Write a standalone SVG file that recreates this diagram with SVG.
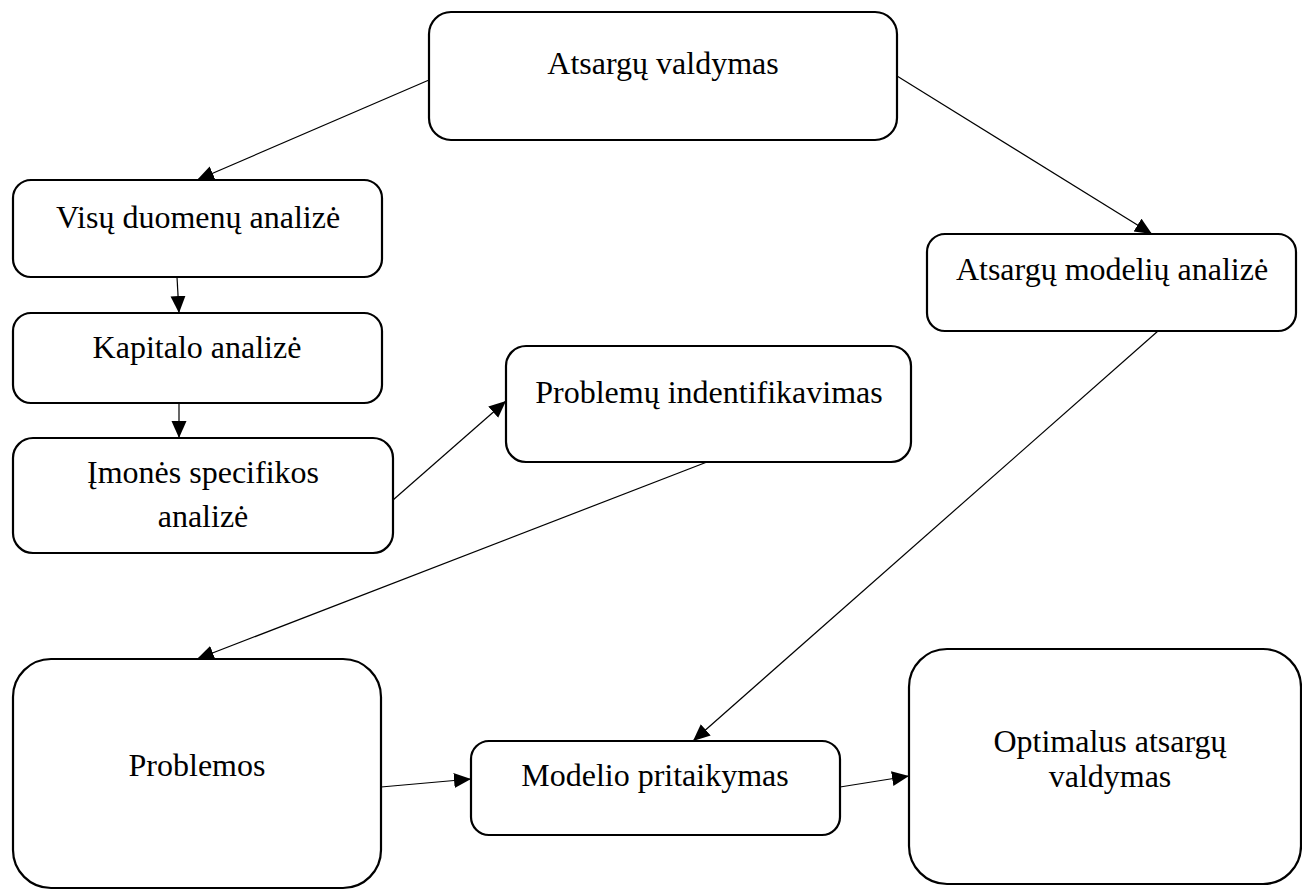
<svg xmlns="http://www.w3.org/2000/svg" width="1302" height="890" viewBox="0 0 1302 890">
<style>
.box{fill:#fff;stroke:#000;stroke-width:2.2}
.lbl{font-family:"Liberation Serif","Times New Roman",serif;font-size:32px;fill:#000;text-anchor:middle}
.con{stroke:#000;stroke-width:1.2;fill:none;marker-end:url(#ah)}
</style>
<defs>
<marker id="ah" markerUnits="userSpaceOnUse" markerWidth="18" markerHeight="16" refX="17" refY="7.5" orient="auto">
<path d="M0,0 L17,7.5 L0,15 z" fill="#000"/>
</marker>
</defs>
<rect width="1302" height="890" fill="#fff"/>
<g id="n1"><rect class="box" x="429" y="12" width="468" height="128" rx="22"/><text class="lbl" x="663" y="74">Atsargų valdymas</text></g>
<g id="n2"><rect class="box" x="13" y="180" width="369" height="97" rx="18"/><text class="lbl" x="198" y="228">Visų duomenų analizė</text></g>
<g id="n3"><rect class="box" x="13" y="313" width="369" height="90" rx="18"/><text class="lbl" x="197" y="358">Kapitalo analizė</text></g>
<g id="n4"><rect class="box" x="13" y="438" width="380" height="115" rx="20"/><text class="lbl" x="203" y="483">Įmonės specifikos</text><text class="lbl" x="203" y="527">analizė</text></g>
<g id="n5"><rect class="box" x="506" y="346" width="405" height="116" rx="20"/><text class="lbl" x="709" y="403">Problemų indentifikavimas</text></g>
<g id="n6"><rect class="box" x="927" y="234" width="369" height="97" rx="18"/><text class="lbl" x="1112" y="280">Atsargų modelių analizė</text></g>
<g id="n7"><rect class="box" x="13" y="659" width="368" height="229" rx="38"/><text class="lbl" x="197" y="776">Problemos</text></g>
<g id="n8"><rect class="box" x="471" y="741" width="369" height="94" rx="18"/><text class="lbl" x="655" y="786">Modelio pritaikymas</text></g>
<g id="n9"><rect class="box" x="909" y="649" width="392" height="235" rx="38"/><text class="lbl" x="1110" y="752">Optimalus atsargų</text><text class="lbl" x="1110" y="787">valdymas</text></g>
<g id="connectors">
<line class="con" x1="429" y1="80" x2="197" y2="180"/>
<line class="con" x1="897" y1="76" x2="1152" y2="234"/>
<line class="con" x1="177" y1="277" x2="179" y2="313"/>
<line class="con" x1="179" y1="403" x2="179" y2="438"/>
<line class="con" x1="393" y1="500" x2="506" y2="401"/>
<line class="con" x1="707" y1="462" x2="197" y2="659"/>
<line class="con" x1="1158" y1="331" x2="693" y2="741"/>
<line class="con" x1="381" y1="787" x2="471" y2="779"/>
<line class="con" x1="840" y1="787" x2="909" y2="776"/>
</g>
</svg>
